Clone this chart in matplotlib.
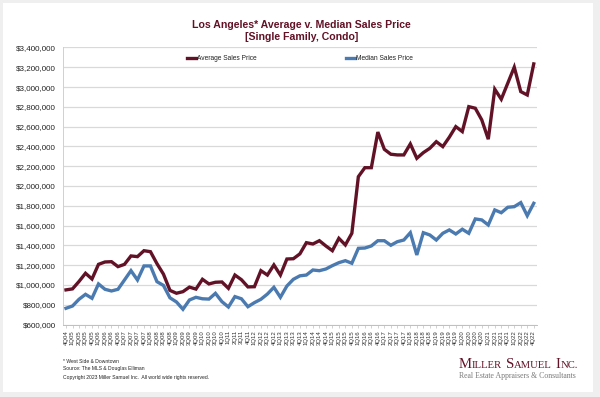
import matplotlib
matplotlib.use("Agg")
import matplotlib.pyplot as plt
from matplotlib.patches import Rectangle
import numpy as np

# quarters 4Q04 .. 4Q22
quarters = ["4Q04",
            "1Q05", "2Q05", "3Q05", "4Q05", "1Q06", "2Q06", "3Q06", "4Q06",
            "1Q07", "2Q07", "3Q07", "4Q07", "1Q08", "2Q08", "3Q08", "4Q08",
            "1Q09", "2Q09", "3Q09", "4Q09", "1Q10", "2Q10", "3Q10", "4Q10",
            "1Q11", "2Q11", "3Q11", "4Q11", "1Q12", "2Q12", "3Q12", "4Q12",
            "1Q13", "2Q13", "3Q13", "4Q13", "1Q14", "2Q14", "3Q14", "4Q14",
            "1Q15", "2Q15", "3Q15", "4Q15", "1Q16", "2Q16", "3Q16", "4Q16",
            "1Q17", "2Q17", "3Q17", "4Q17", "1Q18", "2Q18", "3Q18", "4Q18",
            "1Q19", "2Q19", "3Q19", "4Q19", "1Q20", "2Q20", "3Q20", "4Q20",
            "1Q21", "2Q21", "3Q21", "4Q21", "1Q22", "2Q22", "3Q22", "4Q22"]

# prices in $ thousands
avg_price = [950,
             960, 1035, 1118, 1060, 1208, 1232, 1235, 1185,
             1208, 1293, 1286, 1346, 1336, 1215, 1109, 945,
             916, 932, 978, 958, 1057, 1010, 1027, 1030,
             966, 1100, 1053, 980, 982, 1144, 1100, 1202,
             1100, 1262, 1265, 1314, 1427, 1414, 1447, 1394,
             1346, 1471, 1404, 1522, 2094, 2185, 2185, 2545,
             2371, 2321, 2314, 2314, 2425, 2280, 2337, 2381,
             2448, 2398, 2493, 2600, 2550, 2802, 2786, 2668,
             2473, 2978, 2877, 3039, 3201, 2954, 2920, 3234]

median_price = [764,
                787, 855, 905, 865, 1010, 956, 939, 956,
                1050, 1144, 1050, 1192, 1192, 1033, 995, 870,
                828, 754, 848, 875, 860, 857, 915, 831,
                777, 882, 860, 780, 821, 855, 908, 976,
                875, 989, 1057, 1092, 1100, 1151, 1144, 1161,
                1195, 1225, 1245, 1219, 1370, 1373, 1394, 1447,
                1447, 1401, 1437, 1454, 1528, 1303, 1528, 1505,
                1454, 1522, 1556, 1515, 1563, 1522, 1667, 1657,
                1606, 1758, 1730, 1785, 1791, 1832, 1700, 1825]

y_ticks = [600000, 800000, 1000000, 1200000, 1400000, 1600000, 1800000, 2000000,
           2200000, 2400000, 2600000, 2800000, 3000000, 3200000, 3400000]
y_labels = ["$600,000", "$800,000", "$1,000,000", "$1,200,000", "$1,400,000",
            "$1,600,000", "$1,800,000", "$2,000,000", "$2,200,000", "$2,400,000",
            "$2,600,000", "$2,800,000", "$3,000,000", "$3,200,000", "$3,400,000"]

maroon = "#621226"
blue = "#4a7aaf"
grid_gray = "#d9d9d9"

plt.rcParams["font.family"] = ["Liberation Sans", "DejaVu Sans"]

fig = plt.figure(figsize=(6, 3.97), dpi=100, facecolor="#efefef")
# white card behind everything
fig.patches.append(Rectangle((0.005, 0.0126), 0.983, 0.98, transform=fig.transFigure,
                             facecolor="white", edgecolor="none", zorder=-5))

ax = fig.add_axes([0.1046, 0.1826, 0.7904, 0.6978])
ax.set_facecolor("white")

x = np.arange(len(quarters))
ax.plot(x, np.array(avg_price) * 1000, color=maroon, lw=2.4, label="Average Sales Price",
        solid_joinstyle="miter", zorder=3)
ax.plot(x, np.array(median_price) * 1000, color=blue, lw=2.4, label="Median Sales Price",
        solid_joinstyle="miter", zorder=3)

ax.set_xlim(-0.5, len(quarters) - 0.5)
ax.set_ylim(600000, 3400000)
ax.set_yticks(y_ticks)
ax.set_yticklabels(y_labels, fontsize=5.8, color="#222222")
ax.set_xticks(x)
ax.set_xticklabels(quarters, rotation=90, fontsize=4.3, color="#333333")
ax.tick_params(axis="y", length=0, pad=5)
ax.tick_params(axis="x", length=2.5, width=0.5, color="#bfbfbf", pad=1.5)
ax.grid(axis="y", color=grid_gray, lw=0.9)
ax.set_axisbelow(True)
for s in ["top", "right"]:
    ax.spines[s].set_visible(False)
ax.spines["left"].set_color("#d0d0d0")
ax.spines["left"].set_linewidth(0.7)
ax.spines["bottom"].set_color("#bfbfbf")
ax.spines["bottom"].set_linewidth(0.7)

leg = ax.legend(loc="center", bbox_to_anchor=(0.5, 0.853), bbox_transform=fig.transFigure,
                ncol=2, frameon=False, fontsize=4.8, handlelength=1.3, handletextpad=0.1,
                columnspacing=13.5, borderaxespad=0)
for t in leg.get_texts():
    t.set_color("#222222")

# titles
fig.text(0.502, 0.937, "Los Angeles* Average v. Median Sales Price", ha="center", va="center",
         fontsize=7.6, fontweight="bold", color=maroon)
fig.text(0.502, 0.9076, "[Single Family, Condo]", ha="center", va="center",
         fontsize=7.6, fontweight="bold", color=maroon)

# footnotes
fig.text(0.105, 0.0889, "* West Side & Downtown", fontsize=3.6, va="center", color="#222222")
fig.text(0.105, 0.073, "Source: The MLS & Douglas Elliman", fontsize=3.6, va="center", color="#222222")
fig.text(0.105, 0.0486, "Copyright 2023 Miller Samuel Inc.  All world wide rights reserved.",
         fontsize=3.6, va="center", color="#222222")

# logo in small caps
renderer = fig.canvas.get_renderer()
lx = 0.765
pieces = [("M", 10.6, 0), ("ILLER", 7.7, 0.006), ("S", 10.6, 0), ("AMUEL", 7.7, 0.006),
          ("I", 10.6, 0), ("NC.", 7.7, 0)]
for txt, size, gap in pieces:
    t = fig.text(lx, 0.073, txt, fontsize=size, family="Liberation Serif", color=maroon,
                 va="baseline")
    bb = t.get_window_extent(renderer)
    lx += bb.width / fig.bbox.width + gap
fig.text(0.765, 0.048, "Real Estate Appraisers & Consultants", fontsize=5.55,
         family="Liberation Serif", color="#7a7a7a", va="baseline")

fig.savefig("out.png", dpi=100, facecolor=fig.get_facecolor())
